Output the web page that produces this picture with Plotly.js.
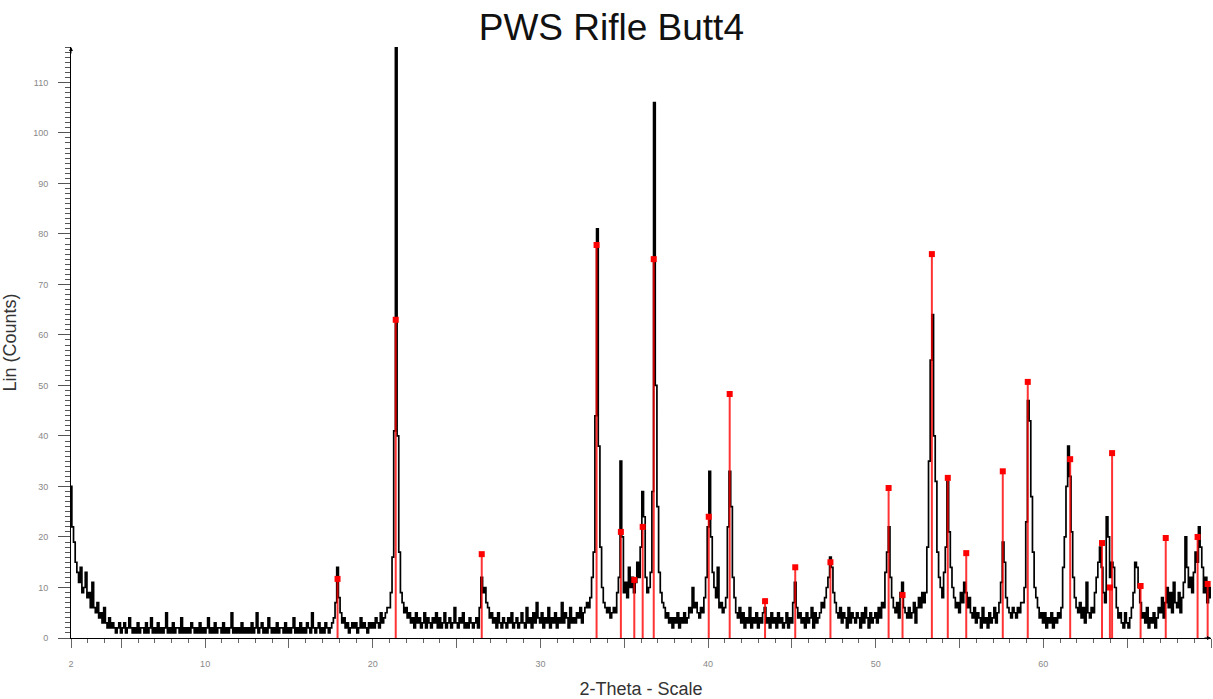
<!DOCTYPE html>
<html>
<head>
<meta charset="utf-8">
<script src="https://cdn.plot.ly/plotly-3.0.1.min.js"></script>
<style>html,body{margin:0;padding:0;background:#fff;}#chart{width:1213px;height:699px;}</style>
</head>
<body>
<div id="chart"></div>
<script>
// Scan: 2-Theta from 2.0 to 70.0 in steps of 0.1 degree
const twoThetaStart = 2.0;
const twoThetaStep = 0.1;
// Measured counts (Lin), one row per degree (2.0 .. 69.9), then 70.0
const counts = [
  30,22,19,15,13,11,14,9,10,13,
  8,9,6,11,6,5,7,4,5,3,
  6,3,2,4,2,3,2,1,2,3,
  1,2,3,1,2,4,2,1,2,1,
  3,1,2,2,1,3,1,2,4,1,
  2,1,3,1,2,1,2,5,1,2,
  1,3,1,2,2,1,4,1,2,1,
  2,1,3,2,1,2,1,3,1,2,
  1,2,4,1,2,1,3,1,2,2,
  1,3,1,2,1,2,5,1,2,1,
  2,1,3,1,2,1,2,1,3,1,
  2,5,1,2,3,1,2,1,4,2,
  1,2,1,3,1,2,2,1,3,1,
  2,1,2,4,1,2,1,3,1,2,
  1,3,2,1,5,2,1,2,3,1,
  2,1,3,2,1,2,3,4,7,14,
  8,5,3,4,2,3,1,2,3,2,
  3,1,2,4,2,3,2,1,3,2,
  3,2,4,3,2,5,3,4,5,6,
  6,9,16,41,130,40,17,9,7,5,
  6,4,5,3,4,2,5,3,4,2,
  3,5,2,4,3,2,4,3,5,2,
  4,2,3,5,2,3,4,2,3,6,
  3,2,4,3,5,2,3,2,4,3,
  2,3,4,2,6,12,9,10,7,6,
  4,5,3,4,2,5,3,2,4,3,
  2,4,3,5,2,3,4,2,3,5,
  3,2,6,3,4,2,5,3,7,4,
  3,5,2,4,3,6,2,4,3,5,
  2,4,3,7,3,5,4,2,6,3,
  4,3,5,4,6,3,5,6,7,6,
  8,12,17,44,81,38,18,10,7,6,
  5,6,4,5,6,5,9,12,35,20,
  9,11,8,14,10,12,9,11,15,12,
  18,29,24,12,9,10,13,29,106,50,
  26,13,9,7,6,4,5,3,4,2,
  4,3,5,2,4,3,5,3,4,6,
  5,10,6,7,5,4,6,5,8,12,
  22,33,20,13,10,8,14,6,7,5,
  6,8,22,33,26,12,8,5,4,6,
  3,5,2,4,3,6,2,4,3,5,
  2,4,3,5,6,3,4,2,5,3,
  4,2,5,3,4,2,3,5,2,4,
  3,7,11,6,4,5,3,4,2,5,
  3,4,6,2,5,3,4,5,7,6,
  8,10,12,16,14,9,7,5,4,6,
  3,5,4,2,6,3,5,4,3,5,
  4,2,5,3,6,4,2,5,3,4,
  5,3,6,4,7,6,13,17,22,12,
  8,6,5,7,4,9,11,6,5,4,
  6,4,5,7,3,6,8,6,9,7,
  9,18,35,55,64,40,31,17,12,10,
  8,13,18,31,21,14,10,8,6,7,
  5,9,7,11,9,6,8,5,4,6,
  3,5,4,2,6,3,4,2,5,3,
  4,6,3,5,7,11,19,15,8,6,
  5,4,6,5,4,6,5,7,7,10,
  23,47,43,28,17,10,8,6,4,5,
  3,5,2,4,3,5,2,4,3,5,
  4,6,14,20,30,38,32,21,12,8,
  6,5,7,4,6,3,11,5,4,6,
  5,9,12,15,18,14,9,7,24,20,
  12,15,14,10,6,4,5,3,2,5,
  3,2,4,6,9,15,14,10,7,4,
  5,3,6,2,4,3,5,2,4,6,
  5,8,4,7,10,6,9,5,11,7,
  6,9,5,8,11,20,14,10,12,9,
  13,17,15,22,18,14,9,12,7,10,
  8
];
// Reference pattern sticks (position, intensity)
const peakTheta  = [17.9, 21.37, 26.5, 33.35, 34.8, 35.6, 36.1, 36.76, 40.04, 41.29, 43.4, 45.2, 47.3, 50.77, 51.6, 53.35, 54.3, 55.4, 57.58, 59.07, 61.6, 63.5, 63.97, 64.1, 65.8, 67.3, 69.2, 69.8];
const peakCounts = [11.7, 63, 16.6, 77.8, 21, 11.5, 22, 75, 24, 48.3, 7.3, 14, 15, 29.7, 8.5, 76, 31.7, 16.8, 33, 50.7, 35.4, 18.8, 10, 36.6, 10.3, 19.8, 20, 10.7];
const xTickVals = [2, 5, 10, 15, 20, 25, 30, 35, 40, 45, 50, 55, 60, 65, 70];
const xTickText = ['2', '', '10', '', '20', '', '30', '', '40', '', '50', '', '60', '', '70'];

const font = 'Liberation Sans, Arial, sans-serif';

const scan = {
  type: 'scatter', mode: 'lines',
  x0: twoThetaStart, dx: twoThetaStep, y: counts,
  line: {color: '#000', width: 1.7, shape: 'hvh'},
  hoverinfo: 'x+y', showlegend: false
};
const sticks = {
  type: 'scatter', mode: 'markers',
  x: peakTheta, y: peakCounts,
  marker: {symbol: 'square', size: 6, color: '#ff0000'},
  error_y: {type: 'data', symmetric: false, array: peakCounts.map(() => 0), arrayminus: peakCounts,
            width: 0, thickness: 2, color: 'rgba(255,0,0,0.8)'},
  showlegend: false
};

const layout = {
  width: 1213, height: 699,
  margin: {l: 71, r: 2, t: 47, b: 61},
  paper_bgcolor: '#fff', plot_bgcolor: '#fff',
  font: {family: font},
  title: {text: 'PWS Rifle Butt4', font: {family: font, size: 37, color: '#111'},
          x: 0.504, xref: 'container', xanchor: 'center', y: 0.962, yref: 'container', yanchor: 'middle'},
  xaxis: {
    range: [2, 70], showgrid: false, zeroline: false,
    showline: true, linecolor: '#000', linewidth: 1,
    tickmode: 'array', tickvals: xTickVals, ticktext: xTickText,
    ticks: 'outside', ticklen: 9, tickcolor: '#666', tickwidth: 1,
    minor: {tickmode: 'linear', tick0: 0, dtick: 1, ticks: 'outside', ticklen: 4, tickcolor: '#666', tickwidth: 1, showgrid: false},
    tickfont: {family: font, size: 9, color: '#888'},
    ticklabelstandoff: 8,
    title: {text: '2-Theta - Scale', font: {family: font, size: 18, color: '#333'}, standoff: 14},
    automargin: false
  },
  yaxis: {
    range: [0, 117], showgrid: false, zeroline: false,
    showline: true, linecolor: '#000', linewidth: 1,
    tick0: 0, dtick: 10,
    ticks: 'outside', ticklen: 12, tickcolor: '#555', tickwidth: 1,
    minor: {tick0: 0, dtick: 1, ticks: 'outside', ticklen: 5, tickcolor: '#555', tickwidth: 1, showgrid: false},
    tickfont: {family: font, size: 9, color: '#888'},
    ticklabelstandoff: 8,
    title: {text: 'Lin (Counts)', font: {family: font, size: 18, color: '#333'}, standoff: 20},
    automargin: false
  },
  annotations: [
    {xref: 'paper', yref: 'paper', x: 0, y: 1, ax: 0, ay: 8, text: '', showarrow: true,
     arrowhead: 2, arrowsize: 0.8, arrowwidth: 1, arrowcolor: '#000'},
    {xref: 'paper', yref: 'paper', x: 1, y: 0, ax: -8, ay: 0, text: '', showarrow: true,
     arrowhead: 2, arrowsize: 0.8, arrowwidth: 1, arrowcolor: '#000'}
  ]
};

Plotly.newPlot('chart', [scan, sticks], layout, {displayModeBar: false, staticPlot: true});
</script>
</body>
</html>
